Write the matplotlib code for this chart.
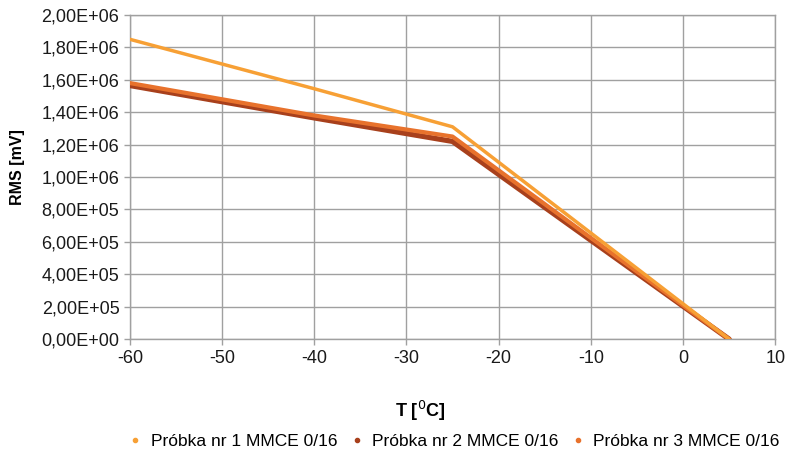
import matplotlib
matplotlib.use("Agg")
import matplotlib.pyplot as plt
from matplotlib.ticker import FuncFormatter, MultipleLocator
from matplotlib.lines import Line2D

plt.rcParams['font.family'] = ['Liberation Sans', 'DejaVu Sans']
plt.rcParams['axes.unicode_minus'] = False

# temperature break points [deg C]
temp = [-60, -40, -25, 5]

# RMS values [mV]
rms_s1 = [1.85e6, 1.545e6, 1.31e6, 0.0]
rms_s2 = [1.565e6, 1.365e6, 1.22e6, 0.0]
rms_s3 = [1.58e6, 1.38e6, 1.25e6, 0.0]

labels = ['Próbka nr 1 MMCE 0/16', 'Próbka nr 2 MMCE 0/16', 'Próbka nr 3 MMCE 0/16']
colors = ['#F7A035', '#A8401C', '#E8722C']

fig = plt.figure(figsize=(7.87, 4.54), dpi=100)
ax = fig.add_axes([0.165, 0.253, 0.82, 0.714])

# draw thicker series first so lighter ones stay visible on top
for y, c, lw in [(rms_s2, colors[1], 3.8), (rms_s3, colors[2], 3.0), (rms_s1, colors[0], 2.5)]:
    ax.plot(temp, y, color=c, lw=lw, solid_capstyle='round', zorder=3)

ax.set_xlim(-60, 10)
ax.set_ylim(0, 2.0e6)
ax.xaxis.set_major_locator(MultipleLocator(10))
ax.yaxis.set_major_locator(MultipleLocator(2e5))
ax.yaxis.set_major_formatter(FuncFormatter(lambda v, p: f'{v:.2E}'.replace('.', ',')))

ax.grid(True, color='#A0A0A0', lw=1.0)
ax.set_axisbelow(True)
for s in ax.spines.values():
    s.set_color('#A0A0A0')
    s.set_linewidth(1.0)
ax.tick_params(axis='both', colors='#A0A0A0', length=4, width=1.0,
               labelcolor='#1a1a1a', labelsize=13)

ax.set_xlabel('T [$^{0}$C]', fontsize=13, fontweight='bold')
ax.xaxis.set_label_coords(0.45, -0.185)
ax.set_ylabel('RMS [mV]', fontsize=11.5, fontweight='bold')
ax.yaxis.set_label_coords(-0.163, 0.53)

handles = [Line2D([], [], ls='none', marker='o', ms=3, color=c) for c in colors]
fig.legend(handles, labels, loc='center', bbox_to_anchor=(0.578, 0.028), ncol=3,
           frameon=False, fontsize=12.5, handlelength=0.6, handletextpad=0.6,
           columnspacing=0.8)

fig.savefig('out.png', dpi=100, facecolor='white')
